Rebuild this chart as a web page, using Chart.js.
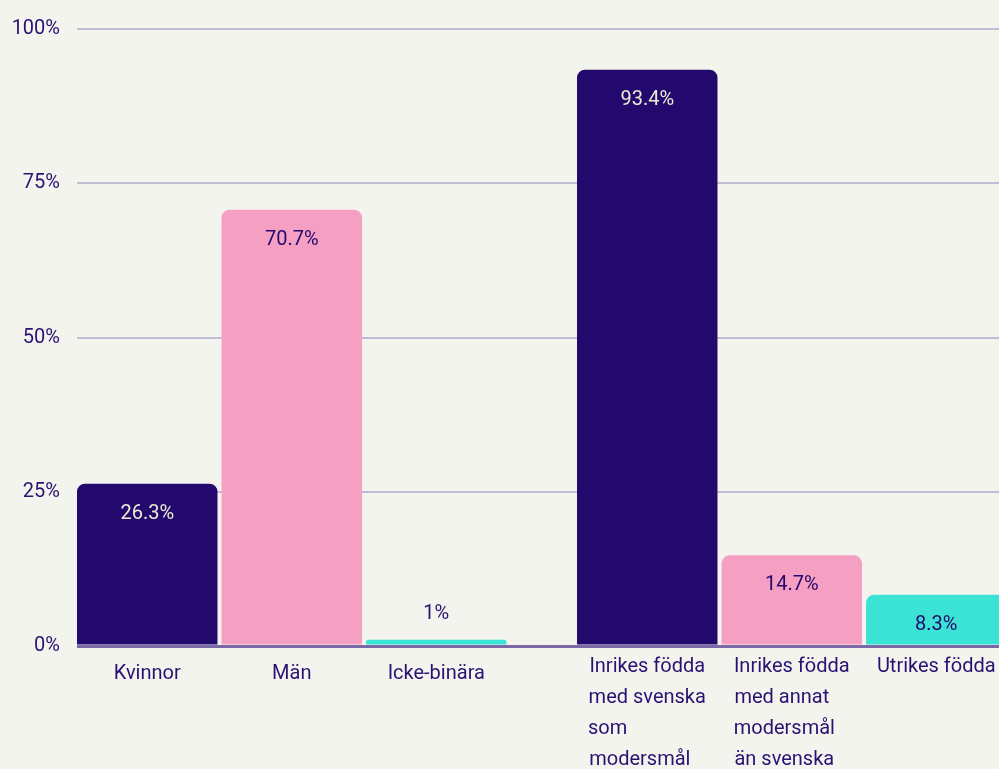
<!DOCTYPE html>
<html>
<head>
<meta charset="utf-8">
<script src="https://cdn.jsdelivr.net/npm/chart.js@4/dist/chart.umd.min.js"></script>
<style>
  html, body { margin: 0; padding: 0; background: #f4f4ef; overflow: hidden; }
  #wrap { width: 999px; height: 769px; position: relative; }
</style>
</head>
<body>
<div id="wrap"><canvas id="c"></canvas></div>
<script>
// ---- data ----
const categories = [
  ["Kvinnor"],
  ["Män"],
  ["Icke-binära"],
  ["Inrikes födda", "med svenska", "som", "modersmål"],
  ["Inrikes födda", "med annat", "modersmål", "än svenska"],
  ["Utrikes födda"]
];
const categoryPositions = [0, 1, 2, 3.46, 4.46, 5.46]; // second group separated by a gap
const values = [26.3, 70.7, 1, 93.4, 14.7, 8.3];
const valueLabels = ["26.3%", "70.7%", "1%", "93.4%", "14.7%", "8.3%"];
const yTicks = [0, 25, 50, 75, 100];

// ---- styles ----
const NAVY = "#23096e";
const PINK = "#f59fc3";
const TURQ = "#3ae3d3";
const barColors = [NAVY, PINK, TURQ, NAVY, PINK, TURQ];
const labelColors = ["#efe9d3", NAVY, NAVY, "#efe9d3", NAVY, NAVY];
const FONT = "Roboto";
const TEXT = "#2a1272";

// pad shorter lines so that a centred block reads left-aligned
const mctx = document.createElement("canvas").getContext("2d");
mctx.font = "20px " + FONT;
const paddedLabels = categories.map(lines => {
  const maxW = Math.max(...lines.map(l => mctx.measureText(l).width));
  const sp = mctx.measureText("\u00a0").width;
  return lines.map(l => {
    const n = Math.round((maxW - mctx.measureText(l).width) / sp);
    return l + "\u00a0".repeat(Math.max(0, n));
  });
});

const valueLabelPlugin = {
  id: "valueLabels",
  afterDatasetsDraw(chart) {
    const ctx = chart.ctx;
    const meta = chart.getDatasetMeta(0);
    ctx.save();
    ctx.font = "20px " + FONT;
    ctx.textAlign = "center";
    ctx.textBaseline = "middle";
    meta.data.forEach((bar, i) => {
      const h = bar.base - bar.y;
      if (h > 45) {
        ctx.fillStyle = labelColors[i];
        ctx.fillText(valueLabels[i], bar.x, bar.y + 30);
      } else if (h > 30) {
        ctx.fillStyle = labelColors[i];
        ctx.fillText(valueLabels[i], bar.x, bar.y + 24);
      } else {
        ctx.fillStyle = TEXT;
        ctx.fillText(valueLabels[i], bar.x, bar.y - 26);
      }
    });
    ctx.restore();
  }
};

new Chart(document.getElementById("c"), {
  type: "bar",
  data: {
    datasets: [{
      data: categoryPositions.map((x, i) => ({ x: x, y: values[i] })),
      backgroundColor: barColors,
      borderWidth: 0,
      borderRadius: 8,
      borderSkipped: "start",
      categoryPercentage: 1,
      barPercentage: 0.972
    }]
  },
  options: {
    responsive: true,
    maintainAspectRatio: false,
    animation: false,
    layout: { padding: { top: 28, right: 0, left: 0, bottom: 0 } },
    plugins: { legend: { display: false }, tooltip: { enabled: false } },
    scales: {
      x: {
        type: "linear",
        offset: false,
        min: -0.486,
        max: 5.894,
        grid: { display: false, offset: false },
        border: { display: false },
        afterBuildTicks: axis => { axis.ticks = categoryPositions.map(v => ({ value: v })); },
        afterFit: axis => { axis.height = 123; axis.paddingLeft = 0; axis.paddingRight = 0; },
        ticks: {
          autoSkip: false,
          maxRotation: 0,
          minRotation: 0,
          padding: -2,
          color: TEXT,
          font: c => ({ family: FONT, size: 20, lineHeight: (c.index < 3 ? 2.16 : 1.54) }),
          callback: (v, i) => paddedLabels[i]
        }
      },
      y: {
        min: 0,
        max: 100,
        afterBuildTicks: axis => { axis.ticks = yTicks.map(v => ({ value: v })); },
        afterFit: axis => { axis.width = 77; },
        border: { display: false },
        grid: {
          drawTicks: false,
          color: c => c.tick && c.tick.value === 0 ? "#7b68a6" : "#c3bbd5",
          lineWidth: c => c.tick && c.tick.value === 0 ? 3 : 2
        },
        ticks: {
          padding: 17,
          color: TEXT,
          font: { family: FONT, size: 20 },
          callback: v => v + "%"
        }
      }
    }
  },
  plugins: [valueLabelPlugin]
});
</script>
</body>
</html>
